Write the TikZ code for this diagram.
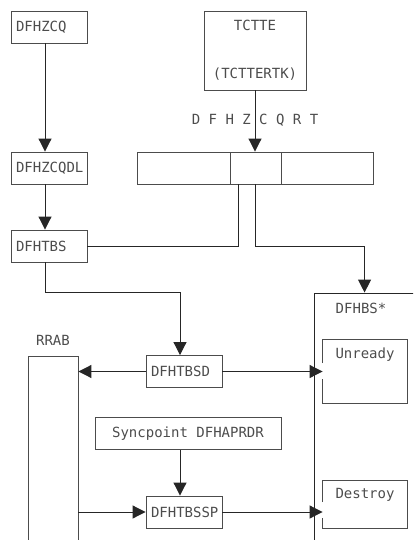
\documentclass[tikz,border=0pt]{standalone}
\usepackage{fontspec}
\setmonofont{DejaVu Sans Mono}
\usetikzlibrary{arrows.meta,calc}

\begin{document}
\begin{tikzpicture}[x=1bp,y=-1bp,font=\ttfamily\fontsize{14bp}{16bp}\selectfont,
  box/.style={shape=rectangle,draw=black!70,line width=0.9bp,text=black!70,minimum height=32bp,inner xsep=5bp,inner ysep=0bp},
  modbox/.style={box,text width=66bp,align=left},
  tag/.style={text=black!70,inner sep=0bp},
  wire/.style={draw=black!85,line width=1bp},
  arr/.style={wire,-{Triangle[length=13bp,width=13bp]}}]
\useasboundingbox (0,0) rectangle (413,540);
\clip (0,0) rectangle (413,540);

\node[modbox] (zcq) at (49,27) {DFHZCQ};
\node[modbox] (zcqdl) at (49,168) {DFHZCQDL};
\node[modbox] (tbs) at (49,246) {DFHTBS};
\node[box,minimum width=102bp,minimum height=79bp,align=center] (tctte) at (255,50.5) {TCTTE\\[32bp](TCTTERTK)};
\node[tag] (letters) at (255,120) {D F H Z C Q R T};

\node[box,minimum width=93bp] (cellL) at (183.5,168) {};
\node[box,minimum width=51bp] (cellM) at (255.5,168) {};
\node[box,minimum width=92bp] (cellR) at (327,168) {};

\node[box,draw=black!85,minimum width=120bp,minimum height=280bp] (hbs) at (374,433) {};
\node[tag] (hbsname) at (361,308) {DFHBS*};
\node[box,draw=none,minimum width=84bp,minimum height=63bp] (unready) at (365,371.5) {};
\node[tag] (unreadyname) at (365,355) {Unready};
\node[box,draw=none,minimum width=84bp,minimum height=47bp] (destroy) at (365,504.5) {};
\node[tag] (destroyname) at (365,495) {Destroy};

\node[box,minimum width=50bp,minimum height=220bp] (rrab) at (53,466) {};
\node[tag] (rrabname) at (53,340) {RRAB};
\node[modbox] (tbsd) at (184,371.5) {DFHTBSD};
\node[box,minimum width=186bp] (sync) at (188,433.5) {Syncpoint DFHAPRDR};
\node[modbox] (tbssp) at (184,512) {DFHTBSSP};

% boxes with an opening for the incoming arrow
\draw[draw=black!70,line width=0.9bp] ([yshift=8.5bp]unready.west) -- (unready.north west) -- (unready.north east)
  -- (unready.south east) -- (unready.south west) -- ([yshift=-7.5bp]unready.west);
\draw[draw=black!70,line width=0.9bp] ([yshift=2.5bp]destroy.west) -- (destroy.north west) -- (destroy.north east)
  -- (destroy.south east) -- (destroy.south west) -- ([yshift=-13.5bp]destroy.west);

\coordinate (upM) at ([xshift=-17bp]cellM.south);
\coordinate (hbsin) at ([xshift=51bp]hbs.north west);
\coordinate (dropD) at ([xshift=-4bp]tbsd.north);
\coordinate (dropS) at ([xshift=-4bp]tbssp.north);

\draw[arr] ([xshift=-4bp]zcq.south) -- ([xshift=-4bp]zcqdl.north);
\draw[arr] ([xshift=-4bp]zcqdl.south) -- ([xshift=-4bp]tbs.north);
\draw[wire] (tbs.east) -| (upM);
\draw[arr] (tctte.south) -- (tctte.south |- cellM.north);
\draw[arr] (tctte.south |- cellM.south) |- (tbs.east -| hbsin) -- (hbsin);
\draw[arr] ([xshift=-4bp]tbs.south) |- (dropD |- hbsin) -- (dropD);
\draw[arr] (tbsd.west) -- (tbsd.west -| rrab.east);
\draw[arr] (tbsd.east) -- (tbsd.east -| unready.west);
\draw[arr] (sync.south -| dropS) -- (dropS);
\draw[arr] (tbssp.west -| rrab.east) -- (tbssp.west);
\draw[arr] (tbssp.east) -- (tbssp.east -| destroy.west);
\end{tikzpicture}
\end{document}
